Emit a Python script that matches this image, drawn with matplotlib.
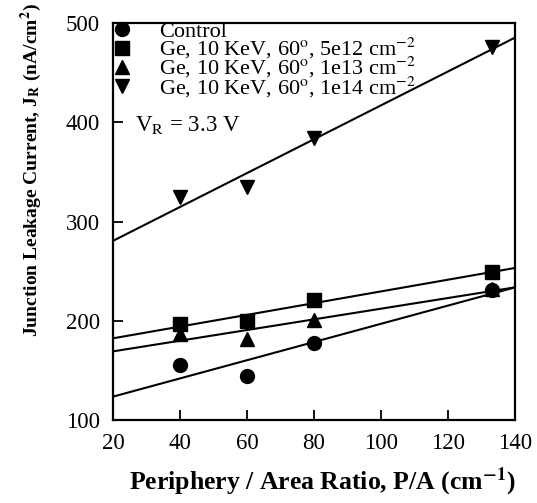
# Libraries
import numpy as np
import matplotlib.pyplot as plt

plt.rcParams['font.family'] = 'Liberation Serif'
plt.rcParams['mathtext.fontset'] = 'stix'

# Data
pa_ratio = [40, 60, 80, 133]
control = [155, 144, 178, 231]
ge_5e12 = [197, 200, 221, 249]
ge_1e13 = [187, 182, 201, 232]
ge_1e14 = [325, 335, 384, 476]

labels = ['Control',
          'Ge, 10 KeV, 60$^{\\mathrm{o}}$, 5e12 cm$^{-2}$',
          'Ge, 10 KeV, 60$^{\\mathrm{o}}$, 1e13 cm$^{-2}$',
          'Ge, 10 KeV, 60$^{\\mathrm{o}}$, 1e14 cm$^{-2}$']
markers = ['o', 's', '^', 'v']
x_range = [20, 140]

fig = plt.figure(figsize=(5.37, 5.03), dpi=100)
ax = fig.add_axes([0.2104, 0.165, 0.7486, 0.789])

for i, (y, m, lab) in enumerate(zip([control, ge_5e12, ge_1e13, ge_1e14], markers, labels)):
    # least squares fit over the full axis range
    k, b = np.polyfit(pa_ratio, y, 1)
    ax.plot(x_range, [k * x_range[0] + b, k * x_range[1] + b], color='black', lw=1.5)
    ax.plot(pa_ratio, y, linestyle='none', marker=m, markersize=10, color='black',
            label=lab, zorder=5 if i == 0 else 3)

ax.set_xlim(20, 140)
ax.set_ylim(100, 500)
ax.set_xticks(np.arange(20, 141, 20))
ax.set_yticks(np.arange(100, 501, 100))
ax.tick_params(direction='in', length=7, width=1.3, labelsize=16.5, top=False, right=False, pad=9.5)
for s in ax.spines.values():
    s.set_linewidth(1.6)

ax.set_xlabel('Periphery / Area Ratio, P/A (cm$^{\\mathbf{-1}}$)', fontsize=18.5, fontweight='bold')
ax.set_ylabel('Junction Leakage Current, J$_{\\mathbf{R}}$ (nA/cm$^{\\mathbf{2}}$)', fontsize=14, fontweight='bold')
ax.xaxis.set_label_coords(0.522, -0.115)
ax.yaxis.set_label_coords(-0.204, 0.63)
ax.yaxis.label.set_va('center')

ax.text(26.6, 397, 'V$_{\\mathrm{R}}$ = 3.3 V', fontsize=16.5, va='center', ha='left')

ax.legend(loc='upper left', bbox_to_anchor=(0.0, 1.005), frameon=False, fontsize=16,
          handlelength=0.8, handletextpad=1.27, labelspacing=-0.26, borderpad=0,
          borderaxespad=0, numpoints=1)

fig.savefig('out.png', dpi=100)
